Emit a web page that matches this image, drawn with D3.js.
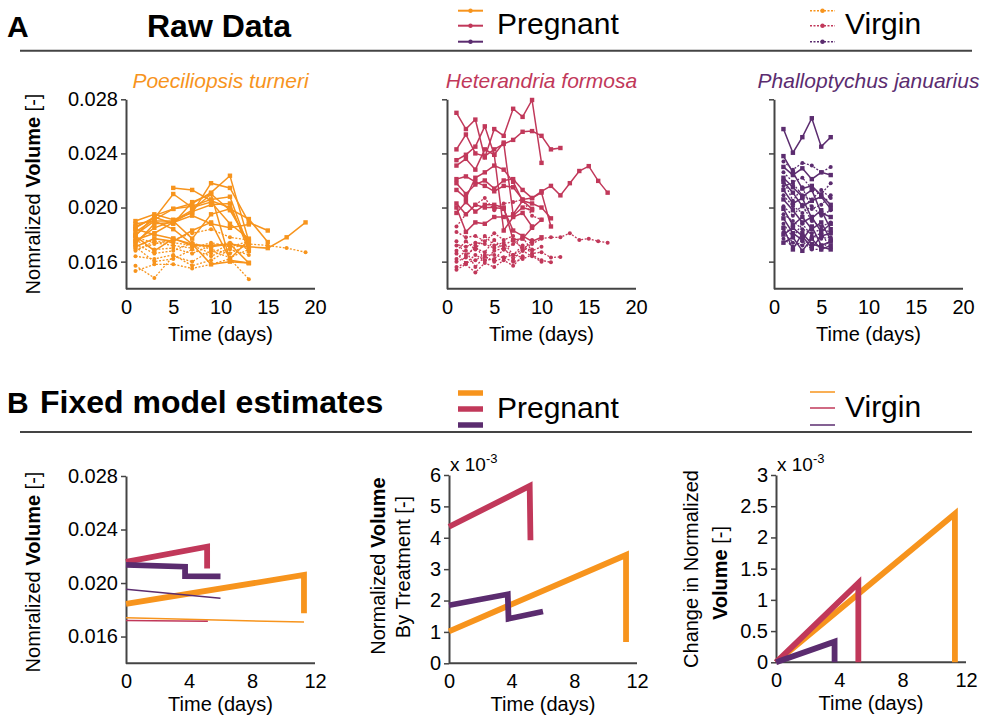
<!DOCTYPE html>
<html>
<head>
<meta charset="utf-8">
<script src="https://cdn.jsdelivr.net/npm/d3@7"></script>
<style>
  body { margin: 0; background: #fff; }
  svg text { font-family: "Liberation Sans", Arial, Helvetica, sans-serif; fill: #000; }
</style>
</head>
<body>
<svg id="chart" width="989" height="717"></svg>
<script>
// ---------------- data (volumes in units of 1e-3) ----------------
const speciesNames = ["Poeciliopsis turneri", "Heterandria formosa", "Phalloptychus januarius"];
const speciesColors = ["#F7941D", "#C1385A", "#5B2C6F"];
const groupNames = ["Pregnant", "Virgin"];

const turneriDays = [1, 3, 5, 7, 9, 11, 13, 15, 17, 19];
const formosaDays = [1, 2, 3, 4, 5, 6, 7, 8, 9, 10, 11, 12, 13, 14, 15, 16, 17];
const januariusDays = [1, 2, 3, 4, 5, 6];

const turneriPregnant = [
  [17.9, 19.4, 19.9, 20.3, 21.1, 22.35, 17.5],
  [19.0, 19.5, 19.1, 19.6, 21.8, 21.45, 18.9, 18.3],
  [18.5, 19.3, 18.8, 20.4, 21.0, 19.8, 17.4],
  [18.2, 19.1, 19.9, 20.1, 20.6, 20.8, 17.0],
  [17.6, 18.1, 18.9, 19.7, 20.2, 20.3, 16.8],
  [18.8, 19.0, 19.0, 17.7, 19.5, 19.9, 19.15, 17.45],
  [17.3, 18.8, 18.9, 19.4, 18.8, 18.5, 18.75],
  [17.9, 16.8, 17.7, 17.2, 17.2, 17.3, 17.1, 17.0, 17.8, 18.9],
  [18.0, 19.0, 18.4, 17.3, 17.1, 17.3, 15.9],
  [null, null, 21.45, 21.3, 20.5, 20.0, 17.2],
  [18.4, 18.0, 17.7, 17.3, 15.8, 16.0, 15.9],
  [17.1, 17.7, 17.5, 18.3, 18.9, 16.2, 17.6],
  [18.6, 19.2, 21.0, 20.0, 20.4, 18.8, 17.7],
  [17.5, 18.5, 19.0, 19.8, 21.0, 16.1, 15.9]
];
const turneriVirgin = [
  [15.7, 14.8, 16.4, 16.0, 16.8, 16.3, 16.9],
  [15.3, 15.8, 15.8, 15.5, 15.8, 16.2, 14.7],
  [17.1, 16.0, 16.2, 16.9, 16.4, 17.0, 17.3, 17.2, 17.0, 16.7],
  [17.6, 16.9, 17.0, 16.6, 17.2, 17.4, 16.9],
  [17.8, 17.4, 17.2, 17.0, 17.4, 17.1, 17.5],
  [16.8, 17.5, 17.4, 17.2, 16.6, 17.3, 17.0],
  [17.3, 16.6, 16.8, 17.4, 16.9, 16.6, 17.3],
  [16.4, 16.2, 16.5, 15.7, 16.1, 16.9, 16.5],
  [16.9, 17.3, 17.6, 18.1, 18.4, 17.8, 17.6]
];

const formosaPregnant = [
  [27.0, 25.8, 26.5, 23.7, 25.8, 25.3, 27.3, 26.7, 27.95, 23.3],
  [24.3, 25.4, 24.0, 23.8, 24.3, 24.7, 25.0, 25.6, 25.65, 25.3, 24.3, 24.4],
  [23.5, 23.9, 24.5, 26.0, 23.9, 24.8, 19.5, 20.5, 19.9],
  [22.1, 22.3, 21.9, 21.6, 21.2, 21.6, 21.5, 20.6, 20.7, 21.2, 21.6, 20.9, 21.8, 22.7, 23.06, 21.97, 21.1],
  [21.8, 21.0, 21.7, 22.0, 21.4, 22.0, 22.1, 21.3, 20.7, 21.1, 18.6],
  [21.3, 20.7, 22.2, 22.6, 23.1, 22.8, 21.9, 20.5, 20.3, 20.0, 19.2],
  [20.3, 19.5, 20.2, 20.0, 20.0, 19.9, 18.3, 17.9, 17.5, 17.8],
  [19.6, 20.4, 19.7, 20.2, 20.2, 20.0, 17.6, 17.7, 18.5, 19.1],
  [20.0, 18.2, 18.9, 18.8, 19.3, 19.3, 19.4, 20.0, 19.8],
  [23.1, 23.6, 22.8, 24.3, 23.9, 18.3, 19.3, 19.6, 18.6]
];
const formosaVirgin = [
  [17.2, 17.1, 17.4, 17.3, 17.0, 17.2, 17.6, 17.0, 17.3, 17.7, 17.8, 17.8, 18.1, 17.6, 17.7, 17.5, 17.4],
  [16.2, 16.8, 15.6, 16.4, 16.0, 16.3, 16.5, 17.2, 16.6, 16.7, 16.3, 16.35],
  [15.6, 15.9, 16.5, 16.1, 16.8, 17.0, 16.2, 16.8, 16.4, 16.0],
  [18.2, 17.8, 17.9, 17.5, 18.1, 17.6, 17.9, 16.8, 17.6],
  [16.8, 17.5, 16.9, 17.9, 17.2, 17.4, 16.5, 16.9, 16.9],
  [17.5, 16.5, 17.0, 16.7, 17.6, 16.9, 17.3, 17.8, 16.8, 17.1],
  [16.0, 16.3, 17.2, 16.1, 16.2, 16.9, 16.5, 16.3],
  [18.6, 19.5, 20.2, 20.7, 19.8, 20.3, 20.4, 20.6, 19.4, 19.1],
  [16.6, 15.9, 16.1, 16.5, 16.5, 16.3, 16.0, 16.2, 16.5, 16.1, 15.95],
  [15.4, 15.8, 15.2, 15.9, 15.6, 16.1, 15.7, 16.4]
];

const januariusPregnant = [
  [25.8, 24.05, 25.2, 26.6, 24.5, 25.2],
  [23.8, 22.6, 21.4, 21.6, 20.9, 20.2],
  [23.0, 22.4, 22.9, 22.1, 22.6, 22.4],
  [22.2, 21.5, 20.8, 21.3, 19.6, 19.3],
  [21.3, 20.3, 20.7, 19.2, 19.8, 18.4],
  [20.6, 19.8, 18.9, 19.3, 18.2, 18.8],
  [19.9, 18.7, 19.3, 18.4, 18.9, 17.6],
  [19.2, 18.1, 17.6, 18.6, 17.2, 17.5],
  [18.5, 16.9, 18.1, 17.3, 17.1, 16.9],
  [18.0, 18.5, 17.9, 17.0, 17.9, 18.1],
  [21.9, 21.1, 20.1, 20.5, 20.8, 19.9],
  [17.4, 17.8, 16.8, 17.7, 16.9, 17.2]
];
const januariusVirgin = [
  [23.4, 22.8, 23.3, 23.1, 22.6, 23.0],
  [22.6, 21.9, 22.2, 21.4, 21.0, 21.8],
  [21.6, 21.8, 20.9, 20.6, 21.3, 20.7],
  [20.9, 20.1, 19.6, 20.1, 19.4, 19.8],
  [20.1, 19.4, 20.2, 19.0, 18.6, 18.9],
  [19.5, 19.0, 18.4, 18.1, 18.4, 18.2],
  [18.8, 17.8, 18.8, 17.9, 17.7, 17.8],
  [18.2, 17.4, 17.2, 17.8, 18.1, 17.0],
  [17.7, 17.1, 17.5, 16.9, 16.9, 17.6],
  [22.0, 20.5, 21.5, 19.9, 20.2, 20.9]
];

// Fixed model estimates: [day, value] vertices, one path per species (turneri, formosa, januarius)
const estimatePregnant = [
  [[0, 18.45], [11.3, 20.6], [11.3, 17.75]],
  [[0, 21.58], [5.15, 22.72], [5.15, 21.08]],
  [[0, 21.35], [3.75, 21.22], [3.75, 20.52], [6, 20.5]]
];
const estimateVirgin = [
  [[0, 17.4], [11.3, 17.08]],
  [[0, 17.2], [5.2, 17.15]],
  [[0, 19.53], [6, 18.86]]
];
const treatmentEffect = [
  [[0, 1.02], [11.3, 3.45], [11.3, 0.68]],
  [[0, 4.35], [5.15, 5.65], [5.2, 3.92]],
  [[0, 1.85], [3.75, 2.2], [3.8, 1.42], [6, 1.65]]
];
const volumeChange = [
  [[0, 0], [11.3, 2.38], [11.3, 0]],
  [[0, 0], [5.2, 1.27], [5.2, 0]],
  [[0, 0], [3.7, 0.33], [3.7, 0]]
];

const volumeTicks = [16, 20, 24, 28];
const rawDayTicks = [0, 5, 10, 15, 20];
const modelDayTicks = [0, 4, 8, 12];
const treatmentTicks = [0, 1, 2, 3, 4, 5, 6];
const changeTicks = [0, 0.5, 1, 1.5, 2, 2.5, 3];

// ---------------- drawing ----------------
const svg = d3.select("#chart");
const AXIS_COLOR = "#444";

function styleAxis(g) {
  g.select(".domain").attr("stroke", AXIS_COLOR).attr("stroke-width", 2);
  g.selectAll(".tick line").attr("stroke", AXIS_COLOR).attr("stroke-width", 1.5);
  g.selectAll(".tick text").attr("font-size", 20).attr("fill", "#000")
    .style("font-family", '"Liberation Sans", Arial, sans-serif');
}

function drawAxes(x, y, opts) {
  const yAxis = d3.axisLeft(y).tickValues(opts.yTicks).tickSizeInner(5).tickSizeOuter(0).tickPadding(3)
    .tickFormat(opts.yFormat);
  const gy = svg.append("g").attr("transform", `translate(${x.range()[0]},0)`).call(yAxis);
  styleAxis(gy);
  const xAxis = d3.axisBottom(x).tickValues(opts.xTicks).tickSize(0).tickPadding(11);
  const gx = svg.append("g").attr("transform", `translate(0,${y.range()[0]})`).call(xAxis);
  styleAxis(gx);
  gx.select(".domain").attr("d", `M${x.range()[0]},0H${x.range()[1]}`);
  svg.append("text")
    .attr("x", (x.range()[0] + x.range()[1]) / 2)
    .attr("y", y.range()[0] + opts.xLabelGap)
    .attr("text-anchor", "middle").attr("font-size", 20)
    .text("Time (days)");
}

function volumeLabel(parts, cx, cy) {
  const t = svg.append("text")
    .attr("transform", `translate(${cx},${cy}) rotate(-90)`)
    .attr("text-anchor", "middle").attr("font-size", 20);
  parts.forEach(([s, bold]) => t.append("tspan").attr("font-weight", bold ? "bold" : "normal").text(s));
}

function drawRaw(x, y, days, series, color, virgin) {
  const line = d3.line().defined(p => p[1] != null).x(p => x(p[0])).y(p => y(p[1]));
  const g = svg.append("g");
  series.forEach(vals => {
    const pts = vals.map((v, i) => [days[i], v]);
    g.append("path").attr("d", line(pts)).attr("fill", "none")
      .attr("stroke", color).attr("stroke-width", virgin ? 1.3 : 1.5)
      .attr("stroke-dasharray", virgin ? "2,1.6" : null);
    const valid = pts.filter(p => p[1] != null);
    if (virgin) {
      g.selectAll(null).data(valid).enter().append("circle")
        .attr("cx", p => x(p[0])).attr("cy", p => y(p[1])).attr("r", 2).attr("fill", color);
    } else {
      g.selectAll(null).data(valid).enter().append("rect")
        .attr("x", p => x(p[0]) - 2.2).attr("y", p => y(p[1]) - 2.2)
        .attr("width", 4.4).attr("height", 4.4).attr("fill", color);
    }
  });
}

// ---- section headers ----
function header(letter, title, letterBaseline, titleX, ruleY, legendYs, pregStyle, virStyle) {
  svg.append("text").attr("x", 7).attr("y", letterBaseline).attr("font-size", 30)
    .attr("font-weight", "bold").text(letter);
  svg.append("text").attr("x", titleX).attr("y", letterBaseline).attr("font-size", 32)
    .attr("font-weight", "bold").text(title);
  svg.append("line").attr("x1", 20).attr("x2", 972).attr("y1", ruleY).attr("y2", ruleY)
    .attr("stroke", "#444").attr("stroke-width", 2);
  const legendX = [[458, 483], [810, 835]];
  const textX = [497, 845];
  [pregStyle, virStyle].forEach((st, gi) => {
    speciesColors.forEach((c, i) => {
      const yy = legendYs[gi][i];
      svg.append("line").attr("x1", legendX[gi][0]).attr("x2", legendX[gi][1])
        .attr("y1", yy).attr("y2", yy).attr("stroke", c)
        .attr("stroke-width", st.width).attr("stroke-dasharray", st.dash);
      if (st.dot) {
        svg.append("circle").attr("cx", (legendX[gi][0] + legendX[gi][1]) / 2).attr("cy", yy)
          .attr("r", 2.2).attr("fill", c);
      }
    });
    svg.append("text").attr("x", textX[gi]).attr("y", legendYs[gi][1] + 8.6)
      .attr("font-size", 30).text(groupNames[gi]);
  });
}

header("A", "Raw Data", 36.7, 147, 50.7,
  [[10.7, 25.7, 41.7], [10.7, 25.7, 41.7]],
  { width: 2, dash: null, dot: true }, { width: 1.6, dash: "2,1.5", dot: true });
header("B", "Fixed model estimates", 413.3, 40, 432,
  [[393, 409, 425], [392, 408, 425]],
  { width: 5.5, dash: null, dot: false }, { width: 1.5, dash: null, dot: false });

// ---- A: raw data panels ----
const rawPanels = [
  { x0: 126, x1: 315, days: turneriDays, preg: turneriPregnant, vir: turneriVirgin },
  { x0: 447, x1: 636, days: formosaDays, preg: formosaPregnant, vir: formosaVirgin },
  { x0: 774, x1: 963, days: januariusDays, preg: januariusPregnant, vir: januariusVirgin }
];
rawPanels.forEach((p, i) => {
  const x = d3.scaleLinear().domain([0, 20]).range([p.x0, p.x1]);
  const y = d3.scaleLinear().domain([14, 28]).range([288.7, 99.3]);
  drawAxes(x, y, {
    yTicks: volumeTicks, xTicks: rawDayTicks, xLabelGap: 52,
    yFormat: i === 0 ? (d => (d / 1000).toFixed(3)) : (() => "")
  });
  drawRaw(x, y, p.days, p.vir, speciesColors[i], true);
  drawRaw(x, y, p.days, p.preg, speciesColors[i], false);
  svg.append("text").attr("x", (p.x0 + p.x1) / 2).attr("y", 88)
    .attr("text-anchor", "middle").attr("font-size", 21).attr("font-style", "italic")
    .attr("fill", speciesColors[i]).style("fill", speciesColors[i]).text(speciesNames[i]);
});
volumeLabel([["Nomralized ", false], ["Volume", true], [" [-]", false]], 40, 194);

// ---- B: model estimate panels ----
const estLine = (x, y) => d3.line().x(p => x(p[0])).y(p => y(p[1]));
function thickPaths(x, y, sets, width) {
  sets.forEach((pts, i) => {
    svg.append("path").attr("d", estLine(x, y)(pts)).attr("fill", "none")
      .attr("stroke", speciesColors[i]).attr("stroke-width", width)
      .attr("stroke-linejoin", "miter").attr("stroke-miterlimit", 10);
  });
}
function scaleNote(x0, baseline) {
  const t = svg.append("text").attr("x", x0 + 1).attr("y", baseline).attr("font-size", 19);
  t.append("tspan").text("x 10");
  t.append("tspan").attr("dy", -8).attr("font-size", 13).text("-3");
}

// B1: absolute volume estimates
{
  const x = d3.scaleLinear().domain([0, 12]).range([126, 315]);
  const y = d3.scaleLinear().domain([14, 28]).range([663.3, 476]);
  drawAxes(x, y, { yTicks: volumeTicks, xTicks: modelDayTicks, xLabelGap: 48,
    yFormat: d => (d / 1000).toFixed(3) });
  thickPaths(x, y, estimatePregnant, 5.8);
  thickPaths(x, y, estimateVirgin, 1.5);
  volumeLabel([["Nomralized ", false], ["Volume", true], [" [-]", false]], 40, 572);
}
// B2: treatment effect
{
  const x = d3.scaleLinear().domain([0, 12]).range([449, 637]);
  const y = d3.scaleLinear().domain([0, 6]).range([663.3, 475]);
  drawAxes(x, y, { yTicks: treatmentTicks, xTicks: modelDayTicks, xLabelGap: 48,
    yFormat: d3.format("d") });
  thickPaths(x, y, treatmentEffect, 5.8);
  scaleNote(449, 471);
  volumeLabel([["Normalized ", false], ["Volume", true]], 385, 566);
  volumeLabel([["By Treatment [-]", false]], 410, 567);
}
// B3: change in volume
{
  const x = d3.scaleLinear().domain([0, 12]).range([776, 966]);
  const y = d3.scaleLinear().domain([0, 3]).range([662.3, 475]);
  drawAxes(x, y, { yTicks: changeTicks, xTicks: modelDayTicks, xLabelGap: 48,
    yFormat: d => d3.format("~g")(d) });
  thickPaths(x, y, volumeChange, 5.8);
  scaleNote(776, 471);
  volumeLabel([["Change in Normalized", false]], 698, 569);
  volumeLabel([["Volume", true], [" [-]", false]], 727, 573);
}
</script>
</body>
</html>
